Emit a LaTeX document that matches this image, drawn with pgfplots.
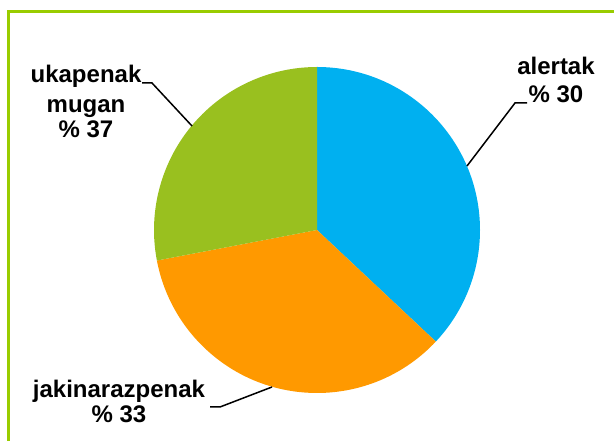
\documentclass[border=0pt]{standalone}
\usepackage{pgfplots}
\pgfplotsset{compat=1.18}
\usepackage{fontspec}
\setmainfont{Liberation Sans}
\definecolor{cblue}{RGB}{0,176,240}
\definecolor{corange}{RGB}{255,153,0}
\definecolor{cgreen}{RGB}{153,192,31}
\definecolor{cframe}{RGB}{153,204,0}
% slice values (percent of the circle), clockwise from 12 o'clock
\def\vA{37}% blue (alertak)
\def\vB{35}% orange (jakinarazpenak)
\def\vC{28}% green (ukapenak mugan)
\begin{document}
\begin{tikzpicture}
\pgfmathsetmacro{\aA}{90-3.6*\vA}
\pgfmathsetmacro{\aB}{\aA-3.6*\vB}
\pgfmathsetmacro{\aC}{\aB-3.6*\vC}
\begin{axis}[name=ax, width=614pt, height=441pt, scale only axis, hide axis,
  xmin=0, xmax=614, ymin=0, ymax=441, clip=true]
\addplot[draw=none] coordinates {(0,0) (614,441)};
% frame
\draw[cframe, line width=2.2pt] (axis cs:8.5,-5) -- (axis cs:8.5,429.5) -- (axis cs:620,429.5);
% pie (centre 317,211; radius 163)
\fill[cblue] (axis cs:317,211) -- ++(90:163pt) arc[start angle=90, end angle=\aA, radius=163pt] -- cycle;
\fill[corange] (axis cs:317,211) -- ++(\aA:163pt) arc[start angle=\aA, end angle=\aB, radius=163pt] -- cycle;
\fill[cgreen] (axis cs:317,211) -- ++(\aB:163pt) arc[start angle=\aB, end angle=\aC, radius=163pt] -- cycle;
% leader lines
\draw[black, line width=1.5pt] (axis cs:142,358) -- (axis cs:152,358) -- (axis cs:192,315);
\draw[black, line width=1.5pt] (axis cs:527,338) -- (axis cs:515,338) -- (axis cs:467,275);
\draw[black, line width=1.5pt] (axis cs:210,34) -- (axis cs:220,34) -- (axis cs:272,54);
% labels
\tikzset{lbl/.style={anchor=base, inner sep=0pt, font=\fontsize{24}{29}\selectfont\bfseries}}
\node[lbl] at (axis cs:86,358) {ukapenak};
\node[lbl] at (axis cs:86,328) {mugan};
\node[lbl] at (axis cs:86,303) {\% 37};
\node[lbl] at (axis cs:556,366) {alertak};
\node[lbl] at (axis cs:556,338) {\% 30};
\node[lbl] at (axis cs:119,43) {jakinarazpenak};
\node[lbl] at (axis cs:119,18) {\% 33};
\end{axis}
\pgfresetboundingbox
\path[use as bounding box] (ax.south west) rectangle (ax.north east);
\end{tikzpicture}
\end{document}
